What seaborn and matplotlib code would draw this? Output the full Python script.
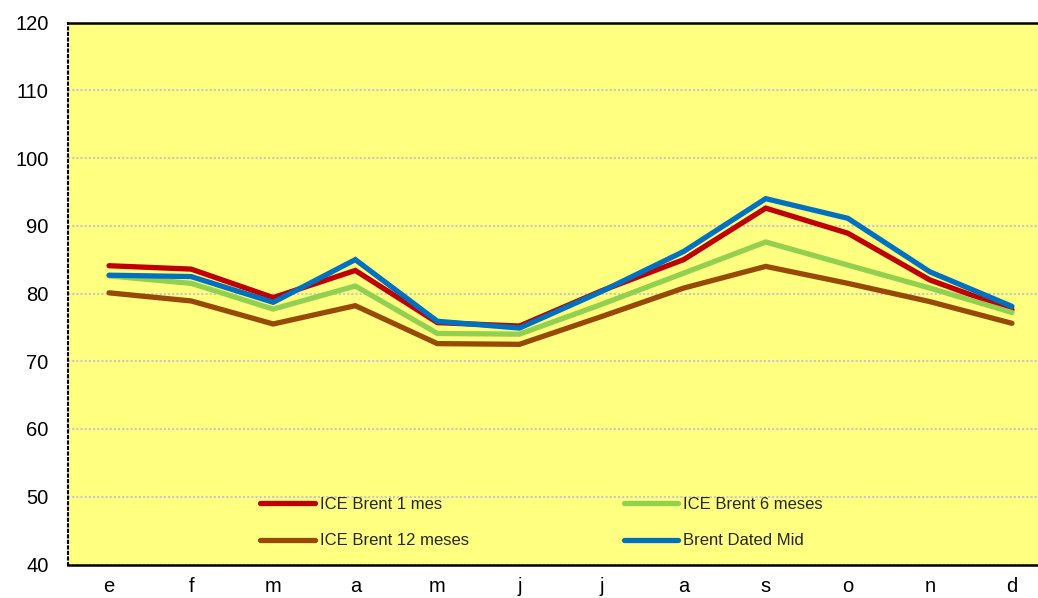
import numpy as np
import pandas as pd
import seaborn as sns
import matplotlib.pyplot as plt


meses = ["e", "f", "m", "a", "m", "j", "j", "a", "s", "o", "n", "d"]

brent_1 = [84.1, 83.6, 79.4, 83.4, 75.7, 75.2, 80.4, 85.0, 92.6, 88.9, 82.0, 77.6]
brent_6 = [82.6, 81.5, 77.7, 81.1, 74.1, 74.0, 78.4, 83.0, 87.6, 84.2, 80.8, 77.2]
brent_12 = [80.1, 78.9, 75.5, 78.2, 72.6, 72.5, 76.6, 80.8, 84.0, 81.5, 78.8, 75.6]
brent_dated = [82.7, 82.5, 78.7, 85.0, 75.9, 74.9, 80.3, 86.2, 94.0, 91.1, 83.2, 78.1]

series = ["ICE Brent 1 mes", "ICE Brent 6 meses", "ICE Brent 12 meses", "Brent Dated Mid"]
colores = ["#C00000", "#92D050", "#984807", "#0070C0"]

# tabla larga para seaborn (x numerico porque hay meses repetidos)
df = pd.DataFrame({
    "x": list(range(12)) * 4,
    "valor": brent_1 + brent_6 + brent_12 + brent_dated,
    "serie": np.repeat(series, 12),
})

sns.set_style("white")
plt.rcParams["font.family"] = ["Liberation Sans", "DejaVu Sans"]

fig = plt.figure(figsize=(10.38, 5.98), dpi=100)
ax = fig.add_axes([68 / 1038, 33.5 / 598, 985 / 1038, 542 / 598])
ax.set_facecolor("#FFFF80")

sns.lineplot(data=df, x="x", y="valor", hue="serie", hue_order=series,
             palette=colores, linewidth=3.8, sort=False, ax=ax,
             solid_capstyle="round", solid_joinstyle="miter")

ax.set_xlim(-0.5, 11.5)
ax.set_ylim(40, 120)
ax.set_yticks(range(40, 121, 10))
ax.set_xticks(range(12))
ax.set_xticklabels(meses)
ax.set_xlabel("")
ax.set_ylabel("")

ax.grid(axis="y", color="#c8c8c8", linestyle=(0, (1, 1)), linewidth=1.5)
ax.set_axisbelow(True)

ax.tick_params(axis="y", length=3, width=1.5, color="#c8c8c8", pad=11, labelsize=14.5, labelcolor="black")
ax.tick_params(axis="x", length=0, pad=9, labelsize=14.5, labelcolor="black")

for s in ["top", "bottom"]:
    ax.spines[s].set_color("black")
    ax.spines[s].set_linewidth(1.8)
ax.spines["left"].set_color("black")
ax.spines["left"].set_linewidth(1.5)
ax.spines["left"].set_linestyle(":")
ax.spines["right"].set_visible(False)

# leyenda en dos columnas: fila 1 rojo/verde, fila 2 marron/azul
h, l = ax.get_legend_handles_labels()
orden = [0, 2, 1, 3]
ax.legend([h[i] for i in orden], [l[i] for i in orden], ncol=2, frameon=False,
          loc="center left", bbox_to_anchor=(252 / 1038, 1 - 522.5 / 598),
          bbox_transform=fig.transFigure, fontsize=12, borderpad=0,
          handlelength=3.25, handletextpad=0.3, columnspacing=9.3, labelspacing=1.3)

fig.savefig("out.png", dpi=100)
